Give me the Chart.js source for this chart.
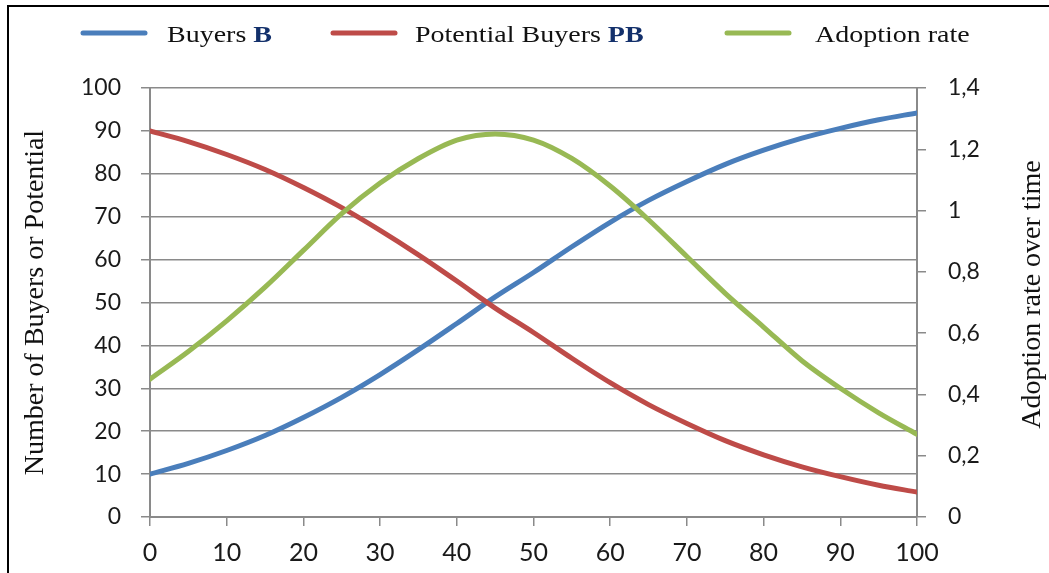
<!DOCTYPE html>
<html>
<head>
<meta charset="utf-8">
<script src="https://cdn.jsdelivr.net/npm/chart.js@4.4.1/dist/chart.umd.min.js"></script>
<style>
  html, body { margin: 0; padding: 0; background: #fff; }
  #wrap { width: 1049px; height: 573px; position: relative; }
</style>
</head>
<body>
<div id="wrap"><canvas id="adoptionChart" width="1049" height="573"></canvas></div>
<script>
// time steps (x axis)
const time = [0, 5, 10, 15, 20, 25, 30, 35, 40, 45, 50, 55, 60, 65, 70, 75, 80, 85, 90, 95, 100];

const buyers = [10, 12.5, 15.5, 19, 23.2, 27.9, 33.2, 39, 45.1, 51.3, 57, 63, 68.7, 73.8, 78.2, 82.2, 85.5, 88.3, 90.6, 92.6, 94.2];
const potentialBuyers = [90, 87.5, 84.5, 81, 76.8, 72.1, 66.8, 61.1, 55, 48.7, 43, 37, 31.3, 26.2, 21.8, 17.8, 14.5, 11.7, 9.4, 7.4, 5.8];
const adoptionRate = [0.45, 0.54, 0.64, 0.75, 0.87, 0.99, 1.09, 1.17, 1.23, 1.25, 1.23, 1.17, 1.08, 0.97, 0.85, 0.73, 0.62, 0.51, 0.42, 0.34, 0.27];

const rightTickLabels = ['0', '0,2', '0,4', '0,6', '0,8', '1', '1,2', '1,4'];
const legendText = [['Buyers ', 'B'], ['Potential Buyers ', 'PB'], ['Adoption rate', '']];
const rightTitle = 'Adoption rate over time';

const toPoints = (ys) => ys.map((y, i) => ({ x: time[i], y: y }));

const ctx = document.getElementById('adoptionChart').getContext('2d');

const gridGray = '#8a8a8a';
const tickColor = '#1a1a1a';
const serif = '"Liberation Serif", "Times New Roman", serif';

// legend, frame and right title drawn by hand (mixed bold text, bottom-to-top title)
const legendPlugin = {
    id: 'customLegend',
    afterDraw(chart) {
        const c = chart.ctx;
        c.save();
        c.fillStyle = '#000';
        c.fillRect(7, 5, 1042, 2);
        c.fillRect(7, 5, 2, 568);

        const spots = [{ line: 83, text: 167 }, { line: 333, text: 415 }, { line: 727, text: 815 }];
        spots.forEach((s, i) => {
            const ds = chart.data.datasets[i];
            c.strokeStyle = ds.borderColor;
            c.lineWidth = 5;
            c.lineCap = 'round';
            c.beginPath();
            c.moveTo(s.line, 33);
            c.lineTo(s.line + 62, 33);
            c.stroke();

            c.save();
            c.translate(s.text, 42);
            c.scale(1, 0.82);
            c.textBaseline = 'alphabetic';
            c.font = '28px ' + serif;
            c.fillStyle = '#111';
            c.fillText(legendText[i][0], 0, 0);
            const w = c.measureText(legendText[i][0]).width;
            if (legendText[i][1]) {
                c.font = 'bold 28px ' + serif;
                c.fillStyle = '#13306b';
                c.fillText(legendText[i][1], w, 0);
            }
            c.restore();
        });

        const y1 = chart.scales.y1;
        c.save();
        c.translate(1033, (y1.top + y1.bottom) / 2 - 8);
        c.rotate(-Math.PI / 2);
        c.font = '28px ' + serif;
        c.fillStyle = '#111';
        c.textAlign = 'center';
        c.textBaseline = 'middle';
        c.fillText(rightTitle, 0, 0);
        c.restore();
        c.restore();
    }
};

const config = {
    type: 'line',
    data: {
        datasets: [{
            label: 'Buyers B',
            data: toPoints(buyers),
            borderColor: '#4a7ebb',
            yAxisID: 'y',
            order: 2
        }, {
            label: 'Potential Buyers PB',
            data: toPoints(potentialBuyers),
            borderColor: '#be4b48',
            yAxisID: 'y',
            order: 1
        }, {
            label: 'Adoption rate',
            data: toPoints(adoptionRate),
            borderColor: '#98b954',
            yAxisID: 'y1',
            order: 0
        }]
    },
    options: {
        responsive: false,
        animation: false,
        layout: { padding: { top: 88, left: 0, right: 0, bottom: 0 } },
        elements: {
            point: { radius: 0 },
            line: { borderWidth: 5, cubicInterpolationMode: 'monotone', borderCapStyle: 'round' }
        },
        plugins: {
            legend: { display: false },
            tooltip: { enabled: false }
        },
        scales: {
            x: {
                type: 'linear',
                min: 0,
                max: 100,
                afterFit(scale) { scale.height = 56; },
                ticks: {
                    stepSize: 10,
                    padding: 12,
                    color: tickColor,
                    font: { family: 'Lato, sans-serif', size: 25 }
                },
                grid: { drawOnChartArea: false, color: gridGray, lineWidth: 1.5, tickLength: 9 },
                border: { color: gridGray, width: 2 }
            },
            y: {
                position: 'left',
                min: 0,
                max: 100,
                afterFit(scale) { scale.width = 150; },
                ticks: {
                    stepSize: 10,
                    padding: 20,
                    color: tickColor,
                    font: { family: 'Lato, sans-serif', size: 23 }
                },
                grid: { color: gridGray, lineWidth: 1.5, tickLength: 9 },
                border: { color: gridGray, width: 2 },
                title: {
                    display: true,
                    text: 'Number of Buyers or Potential',
                    color: '#111',
                    padding: { top: 19, bottom: 0 },
                    font: { family: serif, size: 28, weight: 'normal' }
                }
            },
            y1: {
                position: 'right',
                min: 0,
                max: 1.4,
                afterFit(scale) { scale.width = 132; },
                ticks: {
                    stepSize: 0.2,
                    padding: 22,
                    color: tickColor,
                    font: { family: 'Lato, sans-serif', size: 23 },
                    callback: (v, i) => rightTickLabels[i]
                },
                grid: { drawOnChartArea: false, color: gridGray, lineWidth: 1.5, tickLength: 9 },
                border: { color: gridGray, width: 2 }
            }
        }
    },
    plugins: [legendPlugin]
};

const adoptionChart = new Chart(ctx, config);
</script>
</body>
</html>
